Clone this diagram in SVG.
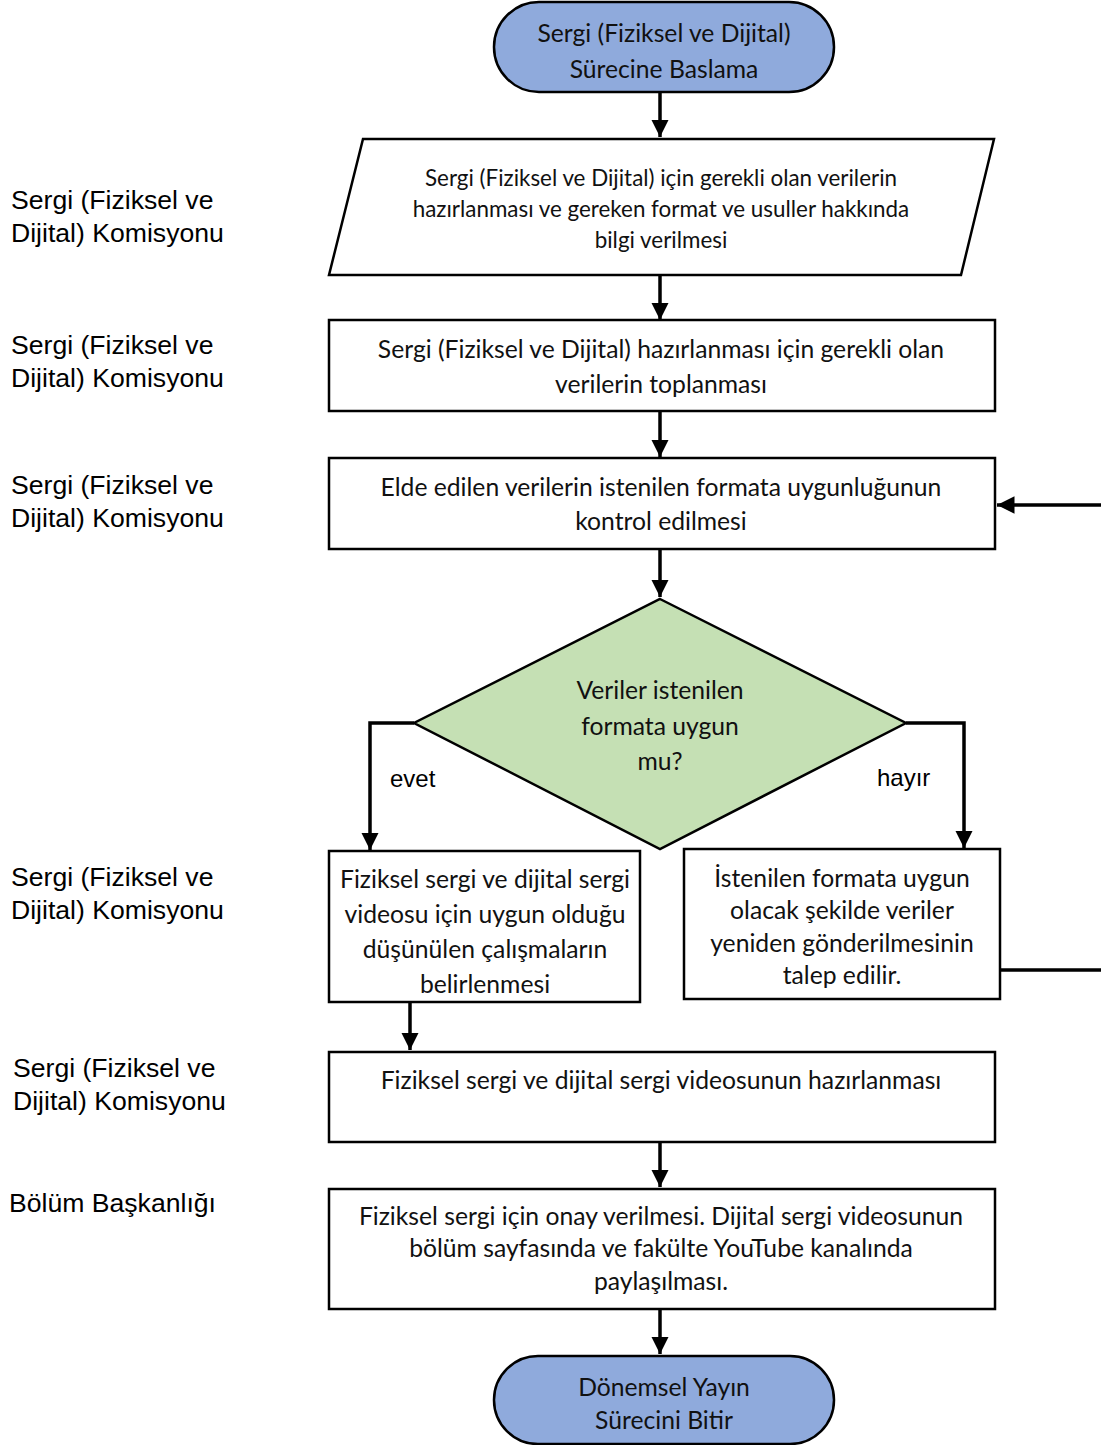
<svg xmlns="http://www.w3.org/2000/svg" width="1101" height="1445" viewBox="0 0 1101 1445">
<defs>
<marker id="ah" viewBox="0 0 10 10" refX="10" refY="5" markerWidth="5" markerHeight="5" orient="auto" markerUnits="strokeWidth"><path d="M0,0 L10,5 L0,10 z" fill="#000"/></marker>
<style>
.sh{stroke:#000;stroke-width:2.5;fill:#fff}
.term{fill:#8FAADC}
.dec{fill:#C5E0B4}
.t{font-family:Lato,"Open Sans",sans-serif;font-size:24.7px;fill:#111;text-anchor:middle}
.ts{font-size:22.4px}
.lab{font-family:"Liberation Sans",Arial,sans-serif;font-size:26.6px;fill:#000}
.bl{font-family:"Liberation Sans",Arial,sans-serif;font-size:24px;fill:#000}
.c{fill:none;stroke:#000;stroke-width:3.5;marker-end:url(#ah)}
</style>
</defs>
<rect width="1101" height="1445" fill="#fff"/>
<g id="lanes">
<text class="lab" x="11" y="209">Sergi (Fiziksel ve</text>
<text class="lab" x="11" y="242">Dijital) Komisyonu</text>
<text class="lab" x="11" y="354">Sergi (Fiziksel ve</text>
<text class="lab" x="11" y="387">Dijital) Komisyonu</text>
<text class="lab" x="11" y="494">Sergi (Fiziksel ve</text>
<text class="lab" x="11" y="527">Dijital) Komisyonu</text>
<text class="lab" x="11" y="886">Sergi (Fiziksel ve</text>
<text class="lab" x="11" y="919">Dijital) Komisyonu</text>
<text class="lab" x="13" y="1077">Sergi (Fiziksel ve</text>
<text class="lab" x="13" y="1110">Dijital) Komisyonu</text>
<text class="lab" x="9" y="1212">Bölüm Başkanlığı</text>
</g>
<g id="connectors">
<path class="c" d="M660,92 V137"/>
<path class="c" d="M660,275 V320"/>
<path class="c" d="M660,411 V457"/>
<path class="c" d="M660,549 V597"/>
<path class="c" d="M414,723 H370 V850"/>
<path class="c" d="M906,723 H964 V848"/>
<path class="c" d="M1000,970 H1104 V505 H997"/>
<path class="c" d="M410,1002 V1050"/>
<path class="c" d="M660,1142 V1187"/>
<path class="c" d="M660,1309 V1354"/>
<text class="bl" x="390" y="787">evet</text>
<text class="bl" x="877" y="786">hayır</text>
</g>
<g id="start">
<rect class="sh term" x="494" y="2" width="340" height="90" rx="45"/>
<text class="t" x="664" y="42">Sergi (Fiziksel ve Dijital)</text>
<text class="t" x="664" y="78">Sürecine Baslama</text>
</g>
<g id="input">
<polygon class="sh" points="363,139 994,139 961,275 329,275"/>
<text class="t ts" x="661" y="186">Sergi (Fiziksel ve Dijital) için gerekli olan verilerin</text>
<text class="t ts" x="661" y="217">hazırlanması ve gereken format ve usuller hakkında</text>
<text class="t ts" x="661" y="248">bilgi verilmesi</text>
</g>
<g id="collect">
<rect class="sh" x="329" y="320" width="666" height="91"/>
<text class="t" x="661" y="358">Sergi (Fiziksel ve Dijital) hazırlanması için gerekli olan</text>
<text class="t" x="661" y="393">verilerin toplanması</text>
</g>
<g id="check">
<rect class="sh" x="329" y="458" width="666" height="91"/>
<text class="t" x="661" y="496">Elde edilen verilerin istenilen formata uygunluğunun</text>
<text class="t" x="661" y="530">kontrol edilmesi</text>
</g>
<g id="decision">
<polygon class="sh dec" points="660,599 906,723 660,849 414,723"/>
<text class="t" x="660" y="699">Veriler istenilen</text>
<text class="t" x="660" y="735">formata uygun</text>
<text class="t" x="660" y="770">mu?</text>
</g>
<g id="yes">
<rect class="sh" x="329" y="851" width="311" height="151"/>
<text class="t" x="485" y="888">Fiziksel sergi ve dijital  sergi</text>
<text class="t" x="485" y="923">videosu için  uygun olduğu</text>
<text class="t" x="485" y="958">düşünülen çalışmaların</text>
<text class="t" x="485" y="993">belirlenmesi</text>
</g>
<g id="no">
<rect class="sh" x="684" y="849" width="316" height="150"/>
<text class="t" x="842" y="887">İstenilen formata uygun</text>
<text class="t" x="842" y="919">olacak şekilde veriler</text>
<text class="t" x="842" y="952">yeniden gönderilmesinin</text>
<text class="t" x="842" y="984">talep edilir.</text>
</g>
<g id="prepare">
<rect class="sh" x="329" y="1052" width="666" height="90"/>
<text class="t" x="661" y="1089">Fiziksel sergi ve dijital sergi videosunun hazırlanması</text>
</g>
<g id="approve">
<rect class="sh" x="329" y="1189" width="666" height="120"/>
<text class="t" x="661" y="1225">Fiziksel sergi için onay verilmesi. Dijital sergi videosunun</text>
<text class="t" x="661" y="1257">bölüm sayfasında ve fakülte YouTube kanalında</text>
<text class="t" x="661" y="1290">paylaşılması.</text>
</g>
<g id="end">
<rect class="sh term" x="494" y="1356" width="340" height="88" rx="44"/>
<text class="t" x="664" y="1396">Dönemsel Yayın</text>
<text class="t" x="664" y="1429">Sürecini Bitir</text>
</g>
</svg>
